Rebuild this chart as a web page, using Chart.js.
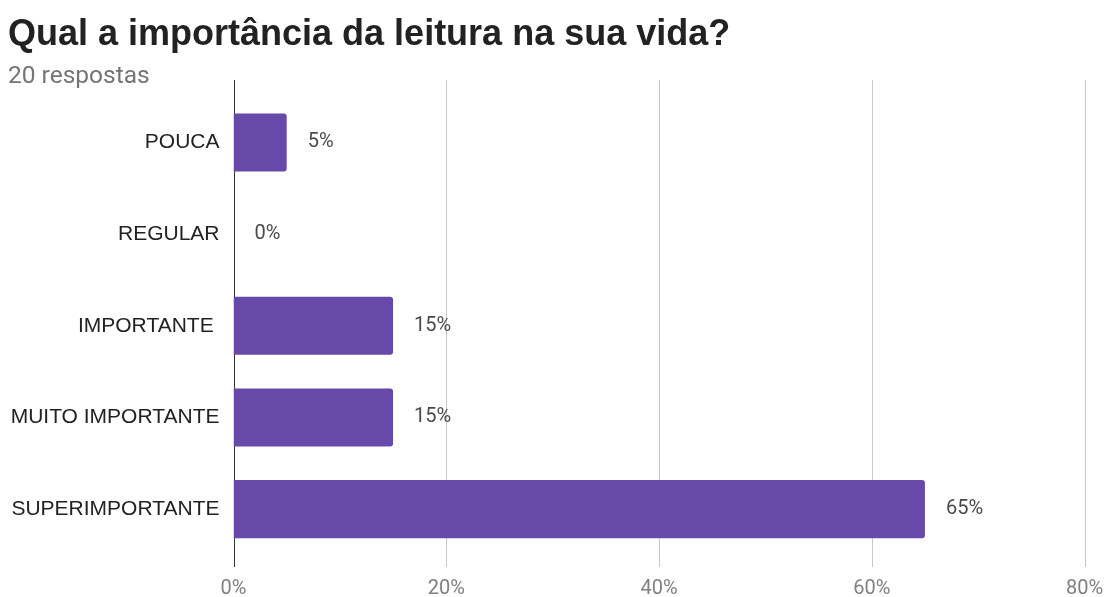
<!DOCTYPE html>
<html>
<head>
<meta charset="utf-8">
<script src="https://cdn.jsdelivr.net/npm/chart.js@4"></script>
<style>
  html, body { margin: 0; padding: 0; background: #fff; }
  #wrap { width: 1105px; height: 597px; }
</style>
</head>
<body>
<div id="wrap"><canvas id="grafico"></canvas></div>
<script>
// dados
const categorias = ['POUCA', 'REGULAR', 'IMPORTANTE ', 'MUITO IMPORTANTE', 'SUPERIMPORTANTE'];
const percentuais = [5, 0, 15, 15, 65];
const ticksX = [0, 20, 40, 60, 80];

// grade vertical que passa um pouco acima e abaixo da área do gráfico
const gradePlugin = {
    id: 'grade',
    beforeDatasetsDraw(chart) {
        const ctx = chart.ctx;
        const x = chart.scales.x;
        ctx.save();
        ticksX.forEach(v => {
            const px = Math.round(x.getPixelForValue(v)) + 0.5;
            ctx.beginPath();
            ctx.strokeStyle = v === 0 ? '#333333' : '#c8c8c8';
            ctx.lineWidth = 1;
            ctx.moveTo(px, 80);
            ctx.lineTo(px, 567);
            ctx.stroke();
        });
        ctx.restore();
    }
};

// rótulos de valor à direita das barras
const rotulosPlugin = {
    id: 'rotulos',
    afterDatasetsDraw(chart) {
        const ctx = chart.ctx;
        const meta = chart.getDatasetMeta(0);
        ctx.save();
        ctx.font = '20px Roboto';
        ctx.fillStyle = '#4a4a4a';
        ctx.textAlign = 'left';
        ctx.textBaseline = 'middle';
        meta.data.forEach((bar, i) => {
            ctx.fillText(percentuais[i] + '%', bar.x + 21, bar.y);
        });
        ctx.restore();
    }
};

new Chart(document.getElementById('grafico'), {
    type: 'bar',
    data: {
        labels: categorias,
        datasets: [{
            data: percentuais,
            backgroundColor: '#6649a8',
            borderRadius: 3,
            borderSkipped: 'start',
            categoryPercentage: 1,
            barPercentage: 0.634
        }]
    },
    options: {
        indexAxis: 'y',
        responsive: true,
        maintainAspectRatio: false,
        animation: false,
        layout: { padding: { left: 8, right: 20.5, top: 0, bottom: 0 } },
        plugins: {
            legend: { display: false },
            tooltip: { enabled: false },
            title: {
                display: true,
                text: 'Qual a importância da leitura na sua vida?',
                align: 'start',
                color: '#222222',
                font: { family: 'Liberation Sans', size: 36, weight: 'bold', lineHeight: 1.2 },
                padding: { top: 13, bottom: 0 }
            },
            subtitle: {
                display: true,
                text: '20 respostas',
                align: 'start',
                color: '#757575',
                font: { family: 'Roboto', size: 24.5, lineHeight: 1.2 },
                padding: { top: 6, bottom: 5 }
            }
        },
        scales: {
            x: {
                min: 0,
                max: 80,
                border: { display: false },
                grid: { display: false },
                ticks: {
                    stepSize: 20,
                    padding: 14,
                    color: '#808080',
                    font: { family: 'Roboto', size: 20 },
                    callback: v => v + '%'
                },
                afterFit(scale) {
                    scale.height = 42;
                    scale.paddingLeft = 0;
                    scale.paddingRight = 0;
                }
            },
            y: {
                border: { display: false },
                grid: { display: false, drawTicks: false },
                ticks: {
                    padding: 14,
                    color: '#222222',
                    font: { family: 'Liberation Sans', size: 21 }
                },
                afterFit(scale) { scale.width = 225.5; }
            }
        }
    },
    plugins: [gradePlugin, rotulosPlugin]
});
</script>
</body>
</html>
